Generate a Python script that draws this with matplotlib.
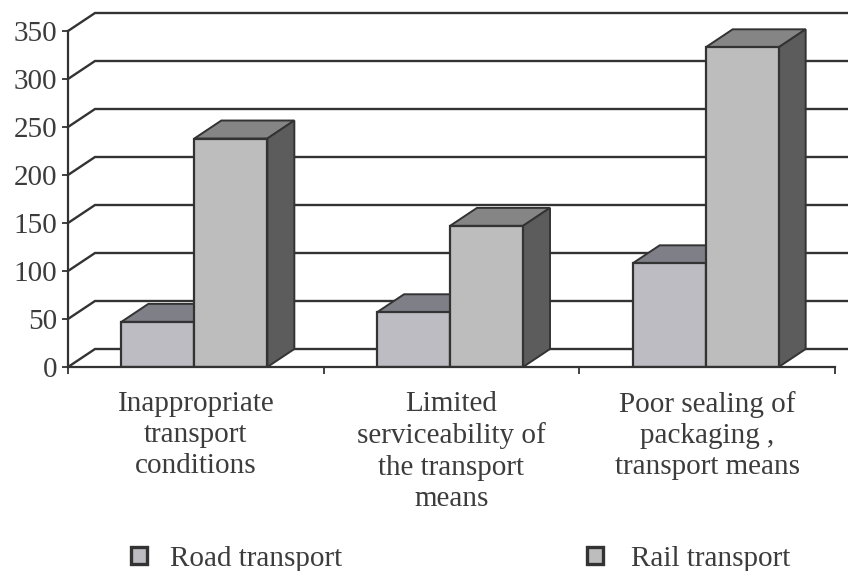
import matplotlib
matplotlib.use('Agg')
import matplotlib.pyplot as plt
from matplotlib.patches import Polygon, Patch

categories = ['Inappropriate\ntransport\nconditions',
              'Limited\nserviceability of\nthe transport\nmeans',
              'Poor sealing of\npackaging ,\ntransport means']
series_names = ['Road transport', 'Rail transport']
road = [47, 57, 108]
rail = [238, 147, 333]
y_ticks = [0, 50, 100, 150, 200, 250, 300, 350]

W, H = 848, 571
x0, y0 = 68, 367
px_cat = (835 - 68) / 3
px_val = 0.96
bar_w = 73 / px_cat
dx = 27 / px_cat
dy = 18 / px_val
shift = -1.5 / px_cat
edge = '#333333'
text_col = '#3c3c3c'

plt.rcParams['font.family'] = ['Liberation Serif', 'DejaVu Serif']
plt.rcParams['font.size'] = 21

fig = plt.figure(figsize=(W / 100, H / 100), dpi=100)
ax = fig.add_axes([x0 / W, (H - y0) / H, (W - x0) / W, y0 / H])
ax.set_xlim(0, (W - x0) / px_cat)
ax.set_ylim(0, y0 / px_val)
ax.patch.set_alpha(0)

# back wall lines
for v in y_ticks:
    ax.plot([0, dx, ax.get_xlim()[1]], [v, v + dy, v + dy], color=edge, lw=1.7,
            zorder=1, clip_on=False, solid_joinstyle='miter')


def box(x, val, front, top, side):
    ax.bar(x, val, bar_w, align='edge', color=front, edgecolor=edge, lw=1.6, zorder=3)
    ax.add_patch(Polygon([(x, val), (x + dx, val + dy), (x + bar_w + dx, val + dy), (x + bar_w, val)],
                         facecolor=top, edgecolor=edge, lw=1.4, zorder=2.5))
    ax.add_patch(Polygon([(x + bar_w, 0), (x + bar_w + dx, dy), (x + bar_w + dx, val + dy), (x + bar_w, val)],
                         facecolor=side, edgecolor=edge, lw=1.4, zorder=2.5))


for i in range(3):
    mid = i + 0.5 + shift
    box(mid - bar_w, road[i], '#bcbcc2', '#7f7f88', '#5c5c5c')
    box(mid, rail[i], '#bdbdbd', '#858585', '#5c5c5c')

for s in ['top', 'right']:
    ax.spines[s].set_visible(False)
ax.spines['left'].set_bounds(0, 350)
ax.spines['bottom'].set_bounds(0, 3)
for s in ['left', 'bottom']:
    ax.spines[s].set_color(edge)
    ax.spines[s].set_linewidth(1.6)
    ax.spines[s].set_zorder(4)

ax.set_yticks(y_ticks)
ax.set_xticks([0, 1, 2, 3])
ax.set_xticklabels([])
ax.set_xticks([0.5, 1.5, 2.5], labels=categories, minor=True)
ax.tick_params(axis='x', which='major', length=5, width=1.3, color=edge)
ax.tick_params(axis='x', which='minor', length=0, pad=17, labelcolor=text_col)
ax.tick_params(axis='y', length=4, width=1.3, color=edge, pad=4, labelcolor=text_col)
for lab in ax.get_xticklabels(minor=True):
    lab.set_linespacing(1.27)
    lab.set_ha('center')

# two separate legends, the entries are not evenly spaced
for name, col, lx, pad in zip(series_names, ['#bcbcc2', '#bdbdbd'], [116, 572], [0.8, 0.97]):
    leg = fig.legend([Patch(facecolor=col, edgecolor=edge, lw=2.4)], [name], frameon=False,
                     loc='center left', bbox_to_anchor=(lx / W, 1 - 559 / H), borderpad=0,
                     handlelength=0.55, handleheight=0.55, handletextpad=pad,
                     labelcolor=text_col)

fig.savefig('out.png', dpi=100)
